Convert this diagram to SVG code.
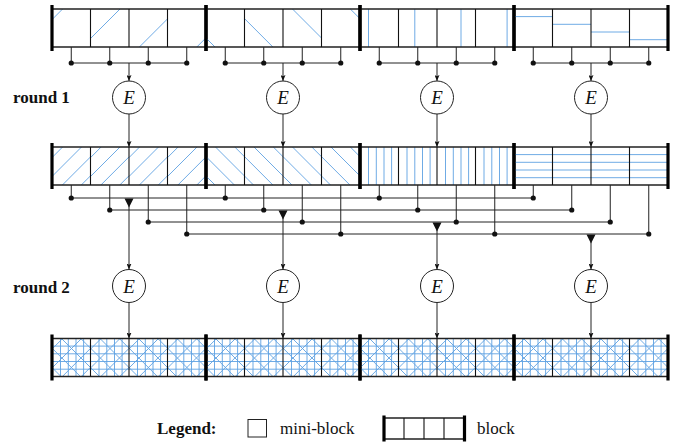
<svg xmlns="http://www.w3.org/2000/svg" xmlns:xlink="http://www.w3.org/1999/xlink" width="688" height="443" viewBox="0 0 688 443">
<style>
.lbl{font-family:"Liberation Serif","Times New Roman","DejaVu Serif",serif;font-size:17px;fill:#111}
.b{font-weight:bold}
.e{font-family:"Liberation Serif","Times New Roman","DejaVu Serif",serif;font-style:italic;font-size:19px;fill:#111;text-anchor:middle}
.hatch{stroke:#5fa2e2;stroke-width:0.9;fill:none}
.conn{stroke:#222;stroke-width:1;fill:none}
.dot{fill:#111}
.circ{fill:#fff;stroke:#222;stroke-width:1}
</style>
<defs>
<marker id="arr" viewBox="0 0 6 5" refX="6" refY="2.5" markerWidth="6" markerHeight="5" markerUnits="userSpaceOnUse" orient="auto">
<path d="M0,0L6,2.5L0,5L1.2,2.5Z" fill="#111"/>
</marker>
<g id="hdefs" stroke="#5fa2e2" stroke-width="0.9" fill="none">
<path id="s0" d="M0,10.6L10.6,0" stroke="#5fa2e2" stroke-width="0.9"/>
<path id="s1" d="M0,29.5L29.5,0" stroke="#5fa2e2" stroke-width="0.9"/>
<path id="s2" d="M10.4,38L38.5,9.9" stroke="#5fa2e2" stroke-width="0.9"/>
<path id="s3" d="M29.3,38L38.5,28.8" stroke="#5fa2e2" stroke-width="0.9"/>
<path id="b0" d="M0,29L9,38" stroke="#5fa2e2" stroke-width="0.9"/>
<path id="b1" d="M0,9.6L28.4,38" stroke="#5fa2e2" stroke-width="0.9"/>
<path id="b2" d="M9.5,0L38.5,29" stroke="#5fa2e2" stroke-width="0.9"/>
<path id="b3" d="M28.8,0L38.5,9.7" stroke="#5fa2e2" stroke-width="0.9"/>
<path id="v0" d="M8.5,0V38" stroke="#5fa2e2" stroke-width="0.9"/>
<path id="v1" d="M16.3,0V38" stroke="#5fa2e2" stroke-width="0.9"/>
<path id="v2" d="M24,0V38" stroke="#5fa2e2" stroke-width="0.9"/>
<path id="v3" d="M31.6,0V38" stroke="#5fa2e2" stroke-width="0.9"/>
<path id="h0" d="M0,7.6H38.5" stroke="#5fa2e2" stroke-width="0.9"/>
<path id="h1" d="M0,15.3H38.5" stroke="#5fa2e2" stroke-width="0.9"/>
<path id="h2" d="M0,23H38.5" stroke="#5fa2e2" stroke-width="0.9"/>
<path id="h3" d="M0,30.7H38.5" stroke="#5fa2e2" stroke-width="0.9"/>
</g>
<g id="S"><use href="#s0"/><use href="#s1"/><use href="#s2"/><use href="#s3"/></g>
<g id="B"><use href="#b0"/><use href="#b1"/><use href="#b2"/><use href="#b3"/></g>
<g id="V"><use href="#v0"/><use href="#v1"/><use href="#v2"/><use href="#v3"/></g>
<g id="H"><use href="#h0"/><use href="#h1"/><use href="#h2"/><use href="#h3"/></g>
<g id="ALL"><use href="#S"/><use href="#B"/><use href="#V"/><use href="#H"/></g>
<g id="blk">
<path d="M0,0H154M0,38H154" stroke="#222" stroke-width="1.3" fill="none"/>
<path d="M38.5,0V38M77,0V38M115.5,0V38" stroke="#111" stroke-width="1.1" fill="none"/>
<path d="M0,-4V42M154,-4V42" stroke="#000" stroke-width="3.2" fill="none"/>
</g>
</defs>
<rect width="688" height="443" fill="#fff"/>

<!-- Round 0 (input) blocks -->
<g id="in-b0"><g class="hatch"><use href="#s0" x="52" y="9"/><use href="#s1" x="90.5" y="9"/><use href="#s2" x="129" y="9"/><use href="#s3" x="167.5" y="9"/></g><use href="#blk" x="52" y="9"/></g>
<g id="in-b1"><g class="hatch"><use href="#b0" x="206" y="9"/><use href="#b1" x="244.5" y="9"/><use href="#b2" x="283" y="9"/><use href="#b3" x="321.5" y="9"/></g><use href="#blk" x="206" y="9"/></g>
<g id="in-b2"><g class="hatch"><use href="#v0" x="360" y="9"/><use href="#v1" x="398.5" y="9"/><use href="#v2" x="437" y="9"/><use href="#v3" x="475.5" y="9"/></g><use href="#blk" x="360" y="9"/></g>
<g id="in-b3"><g class="hatch"><use href="#h0" x="514" y="9"/><use href="#h1" x="552.5" y="9"/><use href="#h2" x="591" y="9"/><use href="#h3" x="629.5" y="9"/></g><use href="#blk" x="514" y="9"/></g>

<!-- Round 1 output blocks -->
<g id="r1-b0"><g class="hatch"><use href="#S" x="52" y="147"/><use href="#S" x="90.5" y="147"/><use href="#S" x="129" y="147"/><use href="#S" x="167.5" y="147"/></g><use href="#blk" x="52" y="147"/></g>
<g id="r1-b1"><g class="hatch"><use href="#B" x="206" y="147"/><use href="#B" x="244.5" y="147"/><use href="#B" x="283" y="147"/><use href="#B" x="321.5" y="147"/></g><use href="#blk" x="206" y="147"/></g>
<g id="r1-b2"><g class="hatch"><use href="#V" x="360" y="147"/><use href="#V" x="398.5" y="147"/><use href="#V" x="437" y="147"/><use href="#V" x="475.5" y="147"/></g><use href="#blk" x="360" y="147"/></g>
<g id="r1-b3"><g class="hatch"><use href="#H" x="514" y="147"/><use href="#H" x="552.5" y="147"/><use href="#H" x="591" y="147"/><use href="#H" x="629.5" y="147"/></g><use href="#blk" x="514" y="147"/></g>

<!-- Round 2 output blocks -->
<g id="r2-b0"><g class="hatch"><use href="#ALL" x="52" y="338.5"/><use href="#ALL" x="90.5" y="338.5"/><use href="#ALL" x="129" y="338.5"/><use href="#ALL" x="167.5" y="338.5"/></g><use href="#blk" x="52" y="338.5"/></g>
<g id="r2-b1"><g class="hatch"><use href="#ALL" x="206" y="338.5"/><use href="#ALL" x="244.5" y="338.5"/><use href="#ALL" x="283" y="338.5"/><use href="#ALL" x="321.5" y="338.5"/></g><use href="#blk" x="206" y="338.5"/></g>
<g id="r2-b2"><g class="hatch"><use href="#ALL" x="360" y="338.5"/><use href="#ALL" x="398.5" y="338.5"/><use href="#ALL" x="437" y="338.5"/><use href="#ALL" x="475.5" y="338.5"/></g><use href="#blk" x="360" y="338.5"/></g>
<g id="r2-b3"><g class="hatch"><use href="#ALL" x="514" y="338.5"/><use href="#ALL" x="552.5" y="338.5"/><use href="#ALL" x="591" y="338.5"/><use href="#ALL" x="629.5" y="338.5"/></g><use href="#blk" x="514" y="338.5"/></g>

<!-- Connectors -->
<g id="connectors">
<g class="conn">
<path d="M71.25,47V63M109.75,47V63M148.25,47V63M186.75,47V63M71.25,63H186.75"/>
<path d="M225.25,47V63M263.75,47V63M302.25,47V63M340.75,47V63M225.25,63H340.75"/>
<path d="M379.25,47V63M417.75,47V63M456.25,47V63M494.75,47V63M379.25,63H494.75"/>
<path d="M533.25,47V63M571.75,47V63M610.25,47V63M648.75,47V63M533.25,63H648.75"/>
<path d="M129,63V81" marker-end="url(#arr)"/>
<path d="M283,63V81" marker-end="url(#arr)"/>
<path d="M437,63V81" marker-end="url(#arr)"/>
<path d="M591,63V81" marker-end="url(#arr)"/>
<path d="M129,114V147" marker-end="url(#arr)"/>
<path d="M283,114V147" marker-end="url(#arr)"/>
<path d="M437,114V147" marker-end="url(#arr)"/>
<path d="M591,114V147" marker-end="url(#arr)"/>
<path d="M71.25,185V198M225.25,185V198M379.25,185V198M533.25,185V198M71.25,198H533.25"/>
<path d="M109.75,185V210M263.75,185V210M417.75,185V210M571.75,185V210M109.75,210H571.75"/>
<path d="M148.25,185V222M302.25,185V222M456.25,185V222M610.25,185V222M148.25,222H610.25"/>
<path d="M186.75,185V234M340.75,185V234M494.75,185V234M648.75,185V234M186.75,234H648.75"/>
<path d="M129,206V269.5" marker-end="url(#arr)"/>
<path d="M283,218V269.5" marker-end="url(#arr)"/>
<path d="M437,230V269.5" marker-end="url(#arr)"/>
<path d="M591,242V269.5" marker-end="url(#arr)"/>
<path d="M129,302.5V338.5" marker-end="url(#arr)"/>
<path d="M283,302.5V338.5" marker-end="url(#arr)"/>
<path d="M437,302.5V338.5" marker-end="url(#arr)"/>
<path d="M591,302.5V338.5" marker-end="url(#arr)"/>
</g>
<g class="dot">
<circle cx="71.25" cy="63" r="2.6"/><circle cx="109.75" cy="63" r="2.6"/><circle cx="148.25" cy="63" r="2.6"/><circle cx="186.75" cy="63" r="2.6"/>
<circle cx="225.25" cy="63" r="2.6"/><circle cx="263.75" cy="63" r="2.6"/><circle cx="302.25" cy="63" r="2.6"/><circle cx="340.75" cy="63" r="2.6"/>
<circle cx="379.25" cy="63" r="2.6"/><circle cx="417.75" cy="63" r="2.6"/><circle cx="456.25" cy="63" r="2.6"/><circle cx="494.75" cy="63" r="2.6"/>
<circle cx="533.25" cy="63" r="2.6"/><circle cx="571.75" cy="63" r="2.6"/><circle cx="610.25" cy="63" r="2.6"/><circle cx="648.75" cy="63" r="2.6"/>
<circle cx="71.25" cy="198" r="2.6"/><circle cx="225.25" cy="198" r="2.6"/><circle cx="379.25" cy="198" r="2.6"/><circle cx="533.25" cy="198" r="2.6"/>
<circle cx="109.75" cy="210" r="2.6"/><circle cx="263.75" cy="210" r="2.6"/><circle cx="417.75" cy="210" r="2.6"/><circle cx="571.75" cy="210" r="2.6"/>
<circle cx="148.25" cy="222" r="2.6"/><circle cx="302.25" cy="222" r="2.6"/><circle cx="456.25" cy="222" r="2.6"/><circle cx="610.25" cy="222" r="2.6"/>
<circle cx="186.75" cy="234" r="2.6"/><circle cx="340.75" cy="234" r="2.6"/><circle cx="494.75" cy="234" r="2.6"/><circle cx="648.75" cy="234" r="2.6"/>
<path d="M124.5,198.5H133.5L129,207.5Z"/>
<path d="M278.5,210.5H287.5L283,219.5Z"/>
<path d="M432.5,222.5H441.5L437,231.5Z"/>
<path d="M586.5,234.5H595.5L591,243.5Z"/>
</g>
</g>

<!-- E nodes round 1 -->
<g id="e1-0"><circle class="circ" cx="129" cy="97.5" r="16.5"/><text class="e" x="129" y="104" font-family="'Liberation Serif', serif">E</text></g>
<g id="e1-1"><circle class="circ" cx="283" cy="97.5" r="16.5"/><text class="e" x="283" y="104" font-family="'Liberation Serif', serif">E</text></g>
<g id="e1-2"><circle class="circ" cx="437" cy="97.5" r="16.5"/><text class="e" x="437" y="104" font-family="'Liberation Serif', serif">E</text></g>
<g id="e1-3"><circle class="circ" cx="591" cy="97.5" r="16.5"/><text class="e" x="591" y="104" font-family="'Liberation Serif', serif">E</text></g>
<!-- E nodes round 2 -->
<g id="e2-0"><circle class="circ" cx="129" cy="286" r="16.5"/><text class="e" x="129" y="292.5" font-family="'Liberation Serif', serif">E</text></g>
<g id="e2-1"><circle class="circ" cx="283" cy="286" r="16.5"/><text class="e" x="283" y="292.5" font-family="'Liberation Serif', serif">E</text></g>
<g id="e2-2"><circle class="circ" cx="437" cy="286" r="16.5"/><text class="e" x="437" y="292.5" font-family="'Liberation Serif', serif">E</text></g>
<g id="e2-3"><circle class="circ" cx="591" cy="286" r="16.5"/><text class="e" x="591" y="292.5" font-family="'Liberation Serif', serif">E</text></g>

<g id="label-round1"><text class="lbl b" x="13" y="103" font-family="'Liberation Serif', serif">round 1</text></g>
<g id="label-round2"><text class="lbl b" x="13" y="293" font-family="'Liberation Serif', serif">round 2</text></g>

<!-- Legend -->
<g id="legend">
<text class="lbl b" x="157" y="434" font-family="'Liberation Serif', serif">Legend:</text>
<rect x="248" y="419.5" width="18.5" height="17.5" fill="#fff" stroke="#222" stroke-width="1"/>
<text class="lbl" x="280" y="434" font-family="'Liberation Serif', serif">mini-block</text>
<path d="M384,418H464.5M384,439H464.5" stroke="#222" stroke-width="1.3" fill="none"/>
<path d="M404,418V439M424,418V439M444,418V439" stroke="#111" stroke-width="1.1" fill="none"/>
<path d="M384,415.5V441.5M464.5,415.5V441.5" stroke="#000" stroke-width="3.2" fill="none"/>
<text class="lbl" x="477" y="434" font-family="'Liberation Serif', serif">block</text>
</g>
</svg>
